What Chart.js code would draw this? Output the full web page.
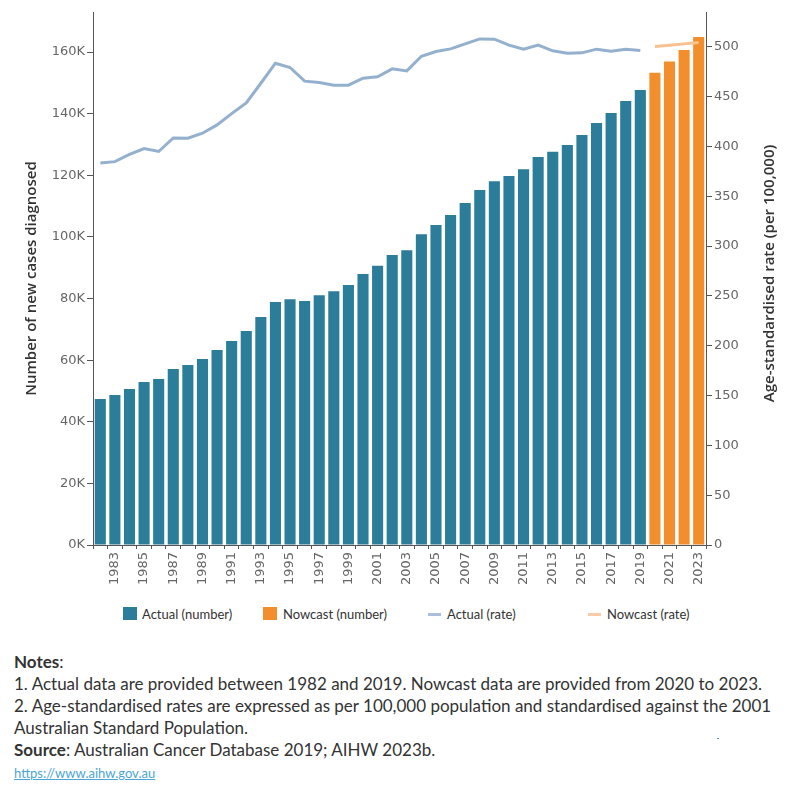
<!DOCTYPE html>
<html>
<head>
<meta charset="utf-8">
<script src="https://cdn.jsdelivr.net/npm/chart.js@4.4.0/dist/chart.umd.min.js"></script>
<style>
  body { margin: 0; background: #fff; }
  #wrap { position: relative; width: 800px; height: 800px; font-family: "Lato", sans-serif; color: #333; }
  #chartBox { position: absolute; left: 0; top: 0; width: 800px; height: 600px; }
  .lg { position: absolute; top: 606px; font-size: 13px; line-height: 16px; color: #333; white-space: nowrap; }
  .sw { position: absolute; width: 14px; height: 13px; top: 607px; }
  .ln { position: absolute; width: 13px; height: 3px; top: 613px; }
  #notes { position: absolute; left: 14px; top: 651px; font-size: 17px; line-height: 22px; color: #333; white-space: nowrap; }
  #notes b { font-weight: 700; }
  #notes a { color: #4aa5d6; font-size: 13px; }
</style>
</head>
<body>
<div id="wrap">
  <div id="chartBox"><canvas id="chart" width="800" height="600"></canvas></div>

  <div class="sw" style="left:123px; background:#2c7d99;"></div>
  <div class="lg" style="left:142px;">Actual (number)</div>
  <div class="sw" style="left:263px; background:#f28e2b;"></div>
  <div class="lg" style="left:283px;">Nowcast (number)</div>
  <div class="ln" style="left:428px; background:#a9bfdc;"></div>
  <div class="lg" style="left:447px;">Actual (rate)</div>
  <div class="ln" style="left:588px; background:#fbcaa6;"></div>
  <div class="lg" style="left:607px;">Nowcast (rate)</div>

  <div id="notes">
    <div><b>Notes</b>:</div>
    <div>1. Actual data are provided between 1982 and 2019. Nowcast data are provided from 2020 to 2023.</div>
    <div>2. Age-standardised rates are expressed as per 100,000 population and standardised against the 2001</div>
    <div>Australian Standard Population.</div>
    <div><b>Source</b>: Australian Cancer Database 2019; AIHW 2023b.</div>
    <div><a href="https://www.aihw.gov.au">https://www.aihw.gov.au</a></div>
  </div>
  <div style="position:absolute; left:717px; top:738px; width:2px; height:1px; background:#4a8fb8;"></div>
</div>

<script>
// --- Datos ---
const years = [];
for (let y = 1982; y <= 2023; y++) years.push(String(y));

// new cases, 1982-2019
const actualNumber = [
    47400, 48700, 50600, 52900, 53900, 57100, 58400, 60400, 63300, 66200,
    69500, 74000, 78900, 79800, 79200, 81100, 82400, 84400, 88000, 90600,
    94100, 95700, 100900, 103900, 107100, 111000, 115200, 118100, 119800, 122000,
    125900, 127600, 129800, 133100, 137000, 140200, 144100, 147700
];
// new cases, 2020-2023
const nowcastNumber = [153300, 156900, 160700, 164900];

// age-standardised rate per 100,000
const actualRate = [
    383.5, 384.8, 392.0, 398.0, 395.0, 408.6, 408.3, 413.3, 421.7, 433.0,
    443.8, 463.5, 483.6, 479.3, 465.6, 464.2, 461.5, 461.5, 468.5, 469.9,
    477.9, 475.9, 490.6, 495.3, 498.0, 503.0, 508.0, 507.7, 501.7, 497.7,
    501.7, 496.0, 493.6, 494.0, 497.7, 495.6, 497.7, 496.3
];
const nowcastRate = [500.3, 501.7, 503.0, 504.4];

// tick values
const numberTicks = [0, 20000, 40000, 60000, 80000, 100000, 120000, 140000, 160000];
const rateTicks = [0, 50, 100, 150, 200, 250, 300, 350, 400, 450, 500];

const nActual = actualNumber.length;
const padActual = arr => years.map((y, i) => i < nActual ? arr[i] : null);
const padNowcast = arr => years.map((y, i) => i >= nActual ? arr[i - nActual] : null);

const tickFont = { family: 'DejaVu Sans', size: 13 };
const tickColor = '#666';
const axisColor = '#555';

// --- Titulos de ejes (leen de abajo hacia arriba) ---
const axisTitles = {
    id: 'axisTitles',
    afterDraw(chart) {
        const ctx = chart.ctx;
        const area = chart.chartArea;
        ctx.save();
        ctx.font = '600 15px "Open Sans"';
        ctx.fillStyle = '#333';
        ctx.textAlign = 'center';
        ctx.textBaseline = 'middle';

        ctx.save();
        ctx.translate(32, (area.top + area.bottom) / 2);
        ctx.rotate(-Math.PI / 2);
        ctx.fillText('Number of new cases diagnosed', 0, 0);
        ctx.restore();

        ctx.save();
        ctx.translate(770, (area.top + area.bottom) / 2 - 5);
        ctx.rotate(-Math.PI / 2);
        ctx.fillText('Age-standardised rate (per 100,000)', 0, 0);
        ctx.restore();

        ctx.restore();
    }
};

const ctx = document.getElementById('chart').getContext('2d');
new Chart(ctx, {
    type: 'bar',
    data: {
        labels: years,
        datasets: [
            {
                type: 'line',
                label: 'Actual (rate)',
                data: padActual(actualRate),
                yAxisID: 'y1',
                borderColor: '#93b0cf',
                borderWidth: 3,
                pointRadius: 0,
                tension: 0,
                spanGaps: false,
                order: 0
            },
            {
                type: 'line',
                label: 'Nowcast (rate)',
                data: padNowcast(nowcastRate),
                yAxisID: 'y1',
                borderColor: '#f9c18f',
                borderWidth: 3,
                pointRadius: 0,
                tension: 0,
                order: 0
            },
            {
                label: 'Actual (number)',
                data: padActual(actualNumber),
                yAxisID: 'y',
                backgroundColor: '#2c7d99',
                grouped: false,
                barPercentage: 0.76,
                categoryPercentage: 1,
                order: 1
            },
            {
                label: 'Nowcast (number)',
                data: padNowcast(nowcastNumber),
                yAxisID: 'y',
                backgroundColor: '#f28e2b',
                grouped: false,
                barPercentage: 0.76,
                categoryPercentage: 1,
                order: 1
            }
        ]
    },
    options: {
        responsive: false,
        animation: false,
        layout: { padding: { top: 12, left: 0, right: 0, bottom: 0 } },
        plugins: {
            legend: { display: false },
            tooltip: { enabled: false }
        },
        scales: {
            x: {
                offset: true,
                grid: { drawOnChartArea: false, tickLength: 4, color: axisColor, offset: true },
                border: { color: axisColor },
                ticks: {
                    autoSkip: false,
                    maxRotation: 90,
                    minRotation: 90,
                    padding: 3,
                    color: tickColor,
                    font: tickFont,
                    callback: function (val, i) {
                        return i % 2 === 1 ? this.getLabelForValue(val) : '';
                    }
                },
                afterFit: s => { s.height = 55; }
            },
            y: {
                position: 'left',
                min: 0,
                max: 173000,
                grid: { drawOnChartArea: false, tickLength: 6, color: axisColor },
                border: { color: axisColor },
                ticks: {
                    padding: 2,
                    color: tickColor,
                    font: tickFont,
                    callback: v => (v / 1000) + 'K'
                },
                afterBuildTicks: s => { s.ticks = numberTicks.map(v => ({ value: v })); },
                afterFit: s => { s.width = 93; }
            },
            y1: {
                position: 'right',
                min: 0,
                max: 535,
                grid: { drawOnChartArea: false, tickLength: 6, color: axisColor },
                border: { color: axisColor },
                ticks: {
                    padding: 2,
                    color: tickColor,
                    font: tickFont
                },
                afterBuildTicks: s => { s.ticks = rateTicks.map(v => ({ value: v })); },
                afterFit: s => { s.width = 94; }
            }
        }
    },
    plugins: [axisTitles]
});
</script>
</body>
</html>
